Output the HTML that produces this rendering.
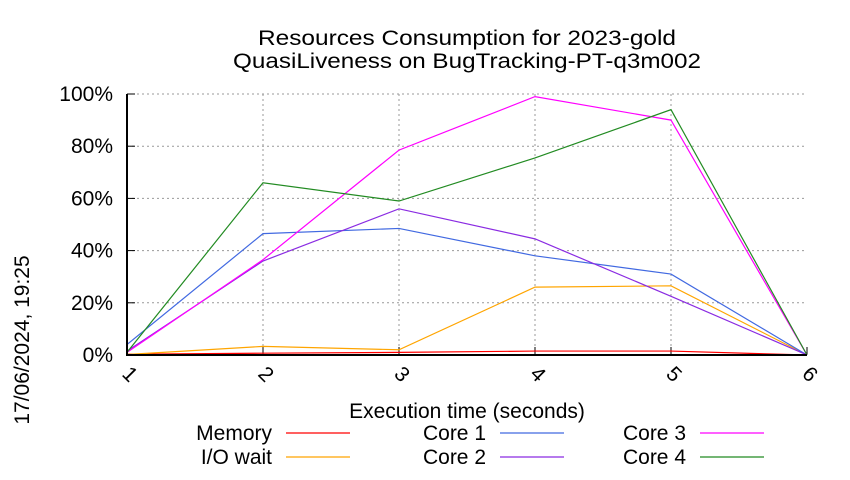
<!DOCTYPE html>
<html><head><meta charset="utf-8"><style>
body{margin:0;background:#fff;}
svg text{font-family:"Liberation Sans",sans-serif;fill:#000;}
</style></head><body>
<svg width="850" height="475" xmlns="http://www.w3.org/2000/svg">
<g id="g"></g>
</svg>
<script>
const xCats=[1,2,3,4,5,6];
const yTicks=[0,20,40,60,80,100];
const seriesNames=["Memory","I/O wait","Core 1","Core 2","Core 3","Core 4"];
const colors=["#ff0000","#ffa500","#4169e1","#8a2be2","#ff00ff","#228b22"];
const memory=[0.3,0.7,1,1.5,1.5,0];
const ioWait=[0.2,3.3,2,26,26.5,0];
const core1=[4,46.5,48.5,38,31,0];
const core2=[1.5,36,56,44.5,22.5,0];
const core3=[1,36.5,78.5,99,90,0];
const core4=[1,66,59,75.5,94,0];
const allSeries=[memory,ioWait,core1,core2,core3,core4];

const L=127,R=807,T=94,B=355;
const xs=v=>L+(v-1)*(R-L)/5;
const ys=v=>B-v*(B-T)/100;
const NS="http://www.w3.org/2000/svg";
const g=document.getElementById('g');
function mk(tag,attrs,parent){const e=document.createElementNS(NS,tag);for(const k in attrs)e.setAttribute(k,attrs[k]);(parent||g).appendChild(e);return e;}

yTicks.forEach(t=>{
  if(t>0){const l=mk('line',{x1:L,x2:R,y1:ys(t),y2:ys(t),stroke:'#999','stroke-dasharray':'2,3','stroke-width':1});
  
  }
  const tk=mk('line',{x1:L,x2:L+8,y1:ys(t),y2:ys(t),stroke:'#000'});
  
  
  const tx=mk('text',{x:L-14,y:ys(t)+7,'text-anchor':'end','font-size':21});
  tx.textContent=t+'%';
  
  
});
xCats.forEach(c=>{
  if(c>1&&c<6){const l=mk('line',{x1:xs(c),x2:xs(c),y1:T,y2:B,stroke:'#999','stroke-dasharray':'2,3'});
  
  }
  const tk=mk('line',{x1:xs(c),x2:xs(c),y1:B,y2:B-8,stroke:'#000'});
  
  
  const tx=mk('text',{x:0,y:0,'font-size':21,transform:`translate(${xs(c)-6},${B+20}) rotate(45)`});
  tx.textContent=c;
  
  
});

allSeries.forEach((s,i)=>{
  const p=mk('polyline',{points:s.map((v,j)=>xs(xCats[j])+','+ys(v)).join(' '),fill:'none',stroke:colors[i],'stroke-width':1.2});
  
  
});
const ax=mk('path',{d:`M${L},${T}V${B}H${R}`,fill:'none',stroke:'#000','stroke-width':2});



const legX=[272,486,686],legY=[433,457];
seriesNames.forEach((n,i)=>{
  const col=Math.floor(i/2),row=i%2;
  const t=mk('text',{x:legX[col],y:legY[row]+7,'text-anchor':'end','font-size':21});
  t.textContent=n;
  
  
  const l=mk('line',{x1:legX[col]+14,x2:legX[col]+78,y1:legY[row],y2:legY[row],stroke:colors[i],'stroke-width':1.2});
  
  
});
</script>
<svg width="850" height="475" style="position:absolute;left:0;top:0" xmlns="http://www.w3.org/2000/svg">
<text x="467" y="45" text-anchor="middle" font-size="21" textLength="418" lengthAdjust="spacingAndGlyphs">Resources Consumption for 2023-gold</text>
<text x="467" y="68" text-anchor="middle" font-size="21" textLength="468" lengthAdjust="spacingAndGlyphs">QuasiLiveness on BugTracking-PT-q3m002</text>
<text x="467" y="418" text-anchor="middle" font-size="21">Execution time (seconds)</text>
<text transform="translate(29,340) rotate(-90)" text-anchor="middle" font-size="21">17/06/2024, 19:25</text>
</svg>
</body></html>
